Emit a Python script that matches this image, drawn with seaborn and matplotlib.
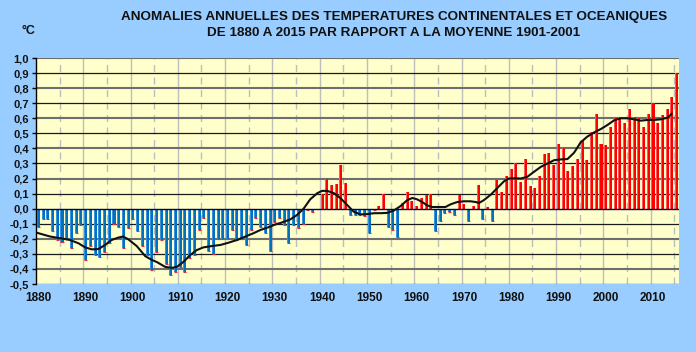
import numpy as np
import pandas as pd
import matplotlib
matplotlib.use("Agg")
import matplotlib.pyplot as plt
from matplotlib.patches import Rectangle
import seaborn as sns

# ---------------- data ----------------
years = list(range(1880, 2016))
anomalies = [
    -0.12, -0.07, -0.07, -0.15, -0.21, -0.22, -0.20, -0.26, -0.16, -0.11,   # 1880s
    -0.34, -0.25, -0.31, -0.32, -0.29, -0.23, -0.10, -0.12, -0.26, -0.13,   # 1890s
    -0.07, -0.15, -0.25, -0.31, -0.41, -0.29, -0.21, -0.37, -0.44, -0.42,   # 1900s
    -0.39, -0.42, -0.33, -0.31, -0.14, -0.06, -0.28, -0.30, -0.20, -0.20,   # 1910s
    -0.20, -0.14, -0.21, -0.20, -0.24, -0.14, -0.06, -0.12, -0.16, -0.28,   # 1920s
    -0.09, -0.06, -0.11, -0.23, -0.11, -0.13, -0.10, -0.01, -0.02, 0.00,    # 1930s
    0.10, 0.20, 0.155, 0.165, 0.29, 0.17, -0.04, -0.04, -0.04, -0.05,       # 1940s
    -0.16, -0.01, 0.02, 0.10, -0.12, -0.14, -0.19, 0.04, 0.11, 0.05,        # 1950s
    0.02, 0.07, 0.09, 0.10, -0.15, -0.08, -0.03, -0.02, -0.04, 0.09,        # 1960s
    0.03, -0.08, 0.02, 0.16, -0.07, 0.01, -0.08, 0.19, 0.11, 0.22,          # 1970s
    0.26, 0.30, 0.18, 0.33, 0.15, 0.14, 0.22, 0.36, 0.37, 0.29,             # 1980s
    0.43, 0.40, 0.25, 0.28, 0.33, 0.45, 0.32, 0.51, 0.63, 0.43,             # 1990s
    0.42, 0.54, 0.60, 0.61, 0.57, 0.66, 0.61, 0.60, 0.54, 0.63,             # 2000s
    0.70, 0.57, 0.62, 0.66, 0.74, 0.90,                                     # 2010s
]

# smoothed curve (year, value)
smooth_years = [
    1879.7, 1882.5, 1884.6, 1886.7, 1888.5, 1889.9, 1891.3, 1892.7, 1894.1, 1895.5,
    1896.9, 1897.9, 1899.0, 1900.8, 1902.6, 1904.0, 1905.1, 1906.8, 1908.2, 1909.3,
    1910.7, 1912.1, 1913.5, 1914.9, 1916.7, 1918.5, 1920.2, 1922.0, 1923.8, 1925.5,
    1927.0, 1928.7, 1930.1, 1931.2, 1933.3, 1934.7, 1936.1, 1937.5, 1939.0, 1940.0,
    1941.1, 1942.5, 1943.9, 1945.3, 1946.7, 1948.1, 1949.6, 1951.0, 1952.4, 1953.8,
    1955.2, 1956.6, 1958.0, 1959.1, 1960.1, 1961.2, 1962.2, 1963.3, 1964.7, 1966.1,
    1967.2, 1968.6, 1970.0, 1971.4, 1972.5, 1973.2, 1974.2, 1975.7, 1977.1, 1978.5,
    1979.5, 1981.0, 1982.0, 1983.4, 1984.8, 1986.3, 1987.7, 1989.1, 1990.5, 1991.9,
    1993.3, 1994.7, 1996.1, 1997.6, 1999.0, 2000.4, 2001.8, 2003.2, 2004.6, 2006.0,
    2007.4, 2008.9, 2010.3, 2011.7, 2013.1, 2014.0,
]
smooth_vals = [
    -0.160, -0.185, -0.196, -0.208, -0.230, -0.257, -0.270, -0.268, -0.241, -0.208,
    -0.192, -0.185, -0.203, -0.248, -0.315, -0.340, -0.355, -0.386, -0.393, -0.386,
    -0.353, -0.308, -0.275, -0.257, -0.248, -0.241, -0.226, -0.208, -0.185, -0.163,
    -0.141, -0.123, -0.105, -0.095, -0.071, -0.042, 0.000, 0.062, 0.103, 0.118,
    0.118, 0.103, 0.070, 0.025, -0.020, -0.038, -0.036, -0.030, -0.030, -0.028,
    -0.012, 0.017, 0.056, 0.071, 0.062, 0.044, 0.022, 0.011, 0.011, 0.011,
    0.029, 0.044, 0.049, 0.049, 0.044, 0.038, 0.056, 0.093, 0.138, 0.182,
    0.200, 0.202, 0.200, 0.211, 0.244, 0.278, 0.300, 0.322, 0.327, 0.329,
    0.371, 0.440, 0.478, 0.507, 0.529, 0.556, 0.587, 0.600, 0.600, 0.593,
    0.584, 0.589, 0.589, 0.593, 0.604, 0.631,
]

y_ticks = [round(-0.5 + 0.1 * i, 1) for i in range(16)]
x_tick_years = list(range(1880, 2011, 10))

title_l1 = "ANOMALIES ANNUELLES DES TEMPERATURES CONTINENTALES ET OCEANIQUES"
title_l2 = "DE 1880 A 2015 PAR RAPPORT A LA MOYENNE 1901-2001"
unit = "°C"

# ---------------- styling ----------------
sns.set_theme(style="white")
plt.rcParams["font.family"] = ["Liberation Sans", "DejaVu Sans"]

FIG_BG = "#99CCFF"
PLOT_BG = "#FFFFCC"
RED = "#FF0000"
BLUE = "#0070C0"

fig = plt.figure(figsize=(6.96, 3.52), dpi=100, facecolor=FIG_BG)
ax = fig.add_axes([36 / 696, 68 / 352, 643 / 696, 226 / 352])
ax.set_facecolor(PLOT_BG)

df = pd.DataFrame({"annee": [str(y) for y in years], "anomalie": anomalies})
df["signe"] = np.where(df["anomalie"] >= 0, "pos", "neg")

# grid lines (behind the bars)
for t in y_ticks:
    if abs(t) < 1e-9:
        continue
    if round(t * 10) % 2 == 0:
        ax.axhline(t, color="#6E6E6E", lw=1.5, zorder=0.5)
    else:
        ax.axhline(t, color="#1A1A1A", lw=0.9, zorder=0.5)
n = len(years)
for k in range(1, n):
    if k % 10 == 0:
        ax.axvline(k - 0.5, color="#BDBDBD", lw=1.0, zorder=0.4)
    elif k % 5 == 0:
        ax.axvline(k - 0.5, color="#BDBDBD", lw=1.0, ls=(0, (5, 4)), zorder=0.4)

sns.barplot(
    data=df, x="annee", y="anomalie", hue="signe", order=list(df["annee"]),
    hue_order=["pos", "neg"], palette={"pos": RED, "neg": BLUE},
    dodge=False, width=0.64, saturation=1, legend=False, ax=ax,
    edgecolor="none", linewidth=0, zorder=2,
)

# light left-side highlight + red tip on the blue bars
for p in list(ax.patches):
    x0, y0 = p.get_x(), p.get_y()
    w, h = p.get_width(), p.get_height()
    if h == 0 or np.isnan(h):
        continue
    fc = p.get_facecolor()
    is_red = fc[0] > 0.9 and fc[2] < 0.2
    hl = "#FF5A5A" if is_red else "#3A92DC"
    ax.add_patch(Rectangle((x0, y0), w * 0.33, h, facecolor=hl,
                           edgecolor="none", zorder=2.1))
    if not is_red:
        bottom = min(y0, y0 + h)
        ax.plot([x0, x0 + w], [bottom, bottom], color="#E0303A", lw=0.8,
                zorder=2.2, solid_capstyle="butt")

ax.axhline(0, color="#000060", lw=1.0, zorder=3)

sx = [yr - years[0] for yr in smooth_years]
sns.lineplot(x=sx, y=smooth_vals, color="#111111", lw=1.5, ax=ax,
             estimator=None, sort=False, zorder=4)

ax.set_xlim(-0.5, n - 0.5)
ax.set_ylim(-0.5, 1.0)

ax.set_yticks(y_ticks)
ax.set_yticklabels([f"{t:.1f}".replace(".", ",") for t in y_ticks],
                   fontweight="bold", fontsize=8)
ax.set_xticks([yr - years[0] for yr in x_tick_years])
ax.set_xticklabels([str(yr) for yr in x_tick_years], fontweight="bold", fontsize=8.5)
ax.tick_params(axis="y", left=True, length=3, width=1, color="black",
               direction="out", pad=2, labelcolor="#111111")
ax.tick_params(axis="x", bottom=False, length=0, pad=6, labelcolor="#111111")
ax.set_xlabel("")
ax.set_ylabel("")
ax.grid(False)

for s in ["top", "right", "bottom"]:
    ax.spines[s].set_visible(False)
ax.spines["left"].set_color("black")
ax.spines["left"].set_linewidth(1.0)

fig.text(394 / 696, 1 - 17 / 352, title_l1, ha="center", va="center",
         fontsize=9.7, fontweight="bold", color="#111111")
fig.text(394 / 696, 1 - 33 / 352, title_l2, ha="center", va="center",
         fontsize=9.7, fontweight="bold", color="#111111")
fig.text(28 / 696, 1 - 31 / 352, unit, ha="center", va="center",
         fontsize=9, fontweight="bold", color="#111111")

fig.savefig("out.png", dpi=100, facecolor=FIG_BG)
